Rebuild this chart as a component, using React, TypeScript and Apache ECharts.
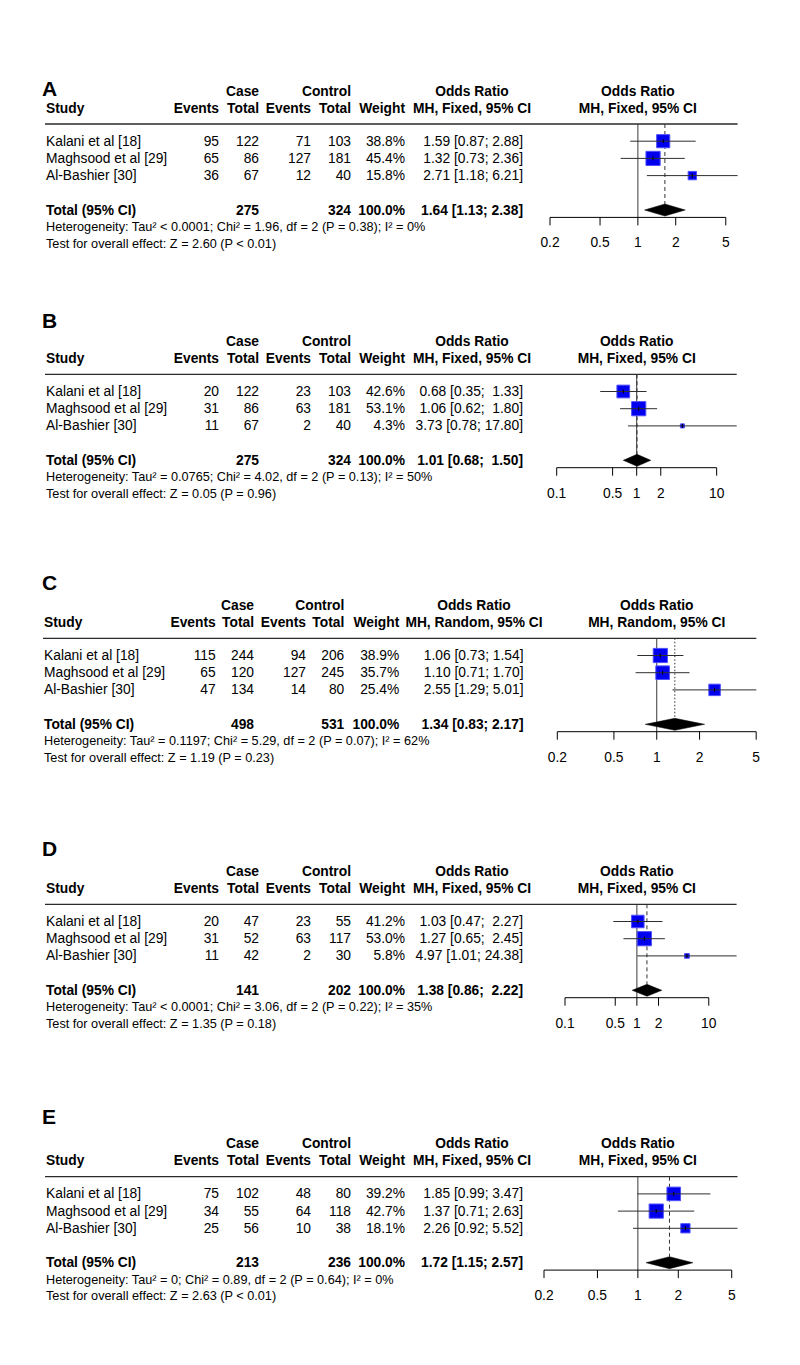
import React, { useEffect, useRef } from "react";
import * as echarts from "echarts";

// ---------------- DATA ----------------
const studies = ["Kalani et al [18]", "Maghsood et al [29]", "Al-Bashier [30]"];
const panelLetters = ["A", "B", "C", "D", "E"];
const panelMethods = ["Fixed", "Fixed", "Random", "Fixed", "Fixed"];

const caseEventsA = [95, 65, 36];
const caseTotalA = [122, 86, 67];
const ctrlEventsA = [71, 127, 12];
const ctrlTotalA = [103, 181, 40];
const weightA = [38.8, 45.4, 15.8];
const orA = [1.59, 1.32, 2.71];
const lowerA = [0.87, 0.73, 1.18];
const upperA = [2.88, 2.36, 6.21];
const summaryA = [1.64, 1.13, 2.38];
const totalsA = [275, 324];
const hetA = "Heterogeneity: Tau² < 0.0001; Chi² = 1.96, df = 2 (P = 0.38); I² = 0%";
const testA = "Test for overall effect: Z = 2.60 (P < 0.01)";
const ticksA = [0.2, 0.5, 1, 2, 5];

const caseEventsB = [20, 31, 11];
const caseTotalB = [122, 86, 67];
const ctrlEventsB = [23, 63, 2];
const ctrlTotalB = [103, 181, 40];
const weightB = [42.6, 53.1, 4.3];
const orB = [0.68, 1.06, 3.73];
const lowerB = [0.35, 0.62, 0.78];
const upperB = [1.33, 1.8, 17.8];
const summaryB = [1.01, 0.68, 1.5];
const totalsB = [275, 324];
const hetB = "Heterogeneity: Tau² = 0.0765; Chi² = 4.02, df = 2 (P = 0.13); I² = 50%";
const testB = "Test for overall effect: Z = 0.05 (P = 0.96)";
const ticksB = [0.1, 0.5, 1, 2, 10];

const caseEventsC = [115, 65, 47];
const caseTotalC = [244, 120, 134];
const ctrlEventsC = [94, 127, 14];
const ctrlTotalC = [206, 245, 80];
const weightC = [38.9, 35.7, 25.4];
const orC = [1.06, 1.1, 2.55];
const lowerC = [0.73, 0.71, 1.29];
const upperC = [1.54, 1.7, 5.01];
const summaryC = [1.34, 0.83, 2.17];
const totalsC = [498, 531];
const hetC = "Heterogeneity: Tau² = 0.1197; Chi² = 5.29, df = 2 (P = 0.07); I² = 62%";
const testC = "Test for overall effect: Z = 1.19 (P = 0.23)";
const ticksC = [0.2, 0.5, 1, 2, 5];

const caseEventsD = [20, 31, 11];
const caseTotalD = [47, 52, 42];
const ctrlEventsD = [23, 63, 2];
const ctrlTotalD = [55, 117, 30];
const weightD = [41.2, 53.0, 5.8];
const orD = [1.03, 1.27, 4.97];
const lowerD = [0.47, 0.65, 1.01];
const upperD = [2.27, 2.45, 24.38];
const summaryD = [1.38, 0.86, 2.22];
const totalsD = [141, 202];
const hetD = "Heterogeneity: Tau² < 0.0001; Chi² = 3.06, df = 2 (P = 0.22); I² = 35%";
const testD = "Test for overall effect: Z = 1.35 (P = 0.18)";
const ticksD = [0.1, 0.5, 1, 2, 10];

const caseEventsE = [75, 34, 25];
const caseTotalE = [102, 55, 56];
const ctrlEventsE = [48, 64, 10];
const ctrlTotalE = [80, 118, 38];
const weightE = [39.2, 42.7, 18.1];
const orE = [1.85, 1.37, 2.26];
const lowerE = [0.99, 0.71, 0.92];
const upperE = [3.47, 2.63, 5.52];
const summaryE = [1.72, 1.15, 2.57];
const totalsE = [213, 236];
const hetE = "Heterogeneity: Tau² = 0; Chi² = 0.89, df = 2 (P = 0.64); I² = 0%";
const testE = "Test for overall effect: Z = 2.63 (P < 0.01)";
const ticksE = [0.2, 0.5, 1, 2, 5];

const panels = [
  { caseEvents: caseEventsA, caseTotal: caseTotalA, ctrlEvents: ctrlEventsA, ctrlTotal: ctrlTotalA, weight: weightA, or: orA, lower: lowerA, upper: upperA, summary: summaryA, totals: totalsA, het: hetA, test: testA, ticks: ticksA },
  { caseEvents: caseEventsB, caseTotal: caseTotalB, ctrlEvents: ctrlEventsB, ctrlTotal: ctrlTotalB, weight: weightB, or: orB, lower: lowerB, upper: upperB, summary: summaryB, totals: totalsB, het: hetB, test: testB, ticks: ticksB },
  { caseEvents: caseEventsC, caseTotal: caseTotalC, ctrlEvents: ctrlEventsC, ctrlTotal: ctrlTotalC, weight: weightC, or: orC, lower: lowerC, upper: upperC, summary: summaryC, totals: totalsC, het: hetC, test: testC, ticks: ticksC },
  { caseEvents: caseEventsD, caseTotal: caseTotalD, ctrlEvents: ctrlEventsD, ctrlTotal: ctrlTotalD, weight: weightD, or: orD, lower: lowerD, upper: upperD, summary: summaryD, totals: totalsD, het: hetD, test: testD, ticks: ticksD },
  { caseEvents: caseEventsE, caseTotal: caseTotalE, ctrlEvents: ctrlEventsE, ctrlTotal: ctrlTotalE, weight: weightE, or: orE, lower: lowerE, upper: upperE, summary: summaryE, totals: totalsE, het: hetE, test: testE, ticks: ticksE },
];

// ---------------- LAYOUT ----------------
const FONT = '"Liberation Sans", Arial, Helvetica, sans-serif';
const FS = 13.8;
const FS_SMALL = 12.7;
const ROW = 17.2;
const Y_MAX = 5.43;
const SQ_MAX = 14.2;

const colsStd = { study: 46, ev: 219, tot: 259, cev: 311, ctot: 351, w: 405, or: 523, orHead: 472 };
const colsC = { study: 44, ev: 215.7, tot: 254, cev: 306, ctot: 344.3, w: 399.3, or: 523.5, orHead: 474 };

const layouts = [
  { top: 124, letterY: 88, gridLeft: 550, gridRight: 737.6, cols: colsStd },
  { top: 374.3, letterY: 320, gridLeft: 556.7, gridRight: 736.7, cols: colsStd },
  { top: 638.3, letterY: 582, gridLeft: 557.3, gridRight: 756.3, cols: colsC },
  { top: 904.3, letterY: 848, gridLeft: 565, gridRight: 736.6, cols: colsStd },
  { top: 1176.7, letterY: 1116, gridLeft: 544, gridRight: 737.5, cols: colsStd },
];

const font = (bold: boolean, size = FS) => `${bold ? "bold " : ""}${size}px ${FONT}`;

function txt(text: string, x: number, y: number, align: string, bold = false, size = FS) {
  return {
    type: "text",
    x,
    y,
    silent: true,
    style: { text, font: font(bold, size), fill: "#000", textAlign: align, textVerticalAlign: "middle" },
  };
}

function fmtCI(or: number, lo: number, hi: number, width: number) {
  return `${or.toFixed(2)} [${lo.toFixed(2)}; ${hi.toFixed(2).padStart(width, " ")}]`;
}

function buildOption() {
  const grids: any[] = [];
  const xAxes: any[] = [];
  const yAxes: any[] = [];
  const series: any[] = [];
  const graphics: any[] = [];

  panels.forEach((p, i) => {
    const lay = layouts[i];
    const c = lay.cols;
    const L = lay.top;
    const method = panelMethods[i];
    const xMin = Math.min(...p.lower, p.ticks[0]);
    const xMax = Math.max(...p.upper, p.ticks[p.ticks.length - 1]);
    const wMax = Math.max(...p.weight);
    const hiWidth = Math.max(...p.upper.map((v) => v.toFixed(2).length), p.summary[2].toFixed(2).length);

    grids.push({ left: lay.gridLeft, top: L, width: lay.gridRight - lay.gridLeft, height: Y_MAX * ROW });
    xAxes.push({ type: "log", logBase: 10, min: xMin, max: xMax, gridIndex: i, show: false });
    yAxes.push({ type: "value", min: 0, max: Y_MAX, inverse: true, gridIndex: i, show: false });

    // ---- table texts ----
    graphics.push(txt(panelLetters[i], 42, lay.letterY, "left", true, 21));
    graphics.push(txt("Case", c.tot, L - 33, "right", true));
    graphics.push(txt("Control", c.ctot, L - 33, "right", true));
    graphics.push(txt("Odds Ratio", c.orHead, L - 33, "center", true));
    graphics.push(txt("Study", c.study, L - 16, "left", true));
    graphics.push(txt("Events", c.ev, L - 16, "right", true));
    graphics.push(txt("Total", c.tot, L - 16, "right", true));
    graphics.push(txt("Events", c.cev, L - 16, "right", true));
    graphics.push(txt("Total", c.ctot, L - 16, "right", true));
    graphics.push(txt("Weight", c.w, L - 16, "right", true));
    graphics.push(txt(`MH, ${method}, 95% CI`, c.orHead, L - 16, "center", true));
    graphics.push({
      type: "line",
      silent: true,
      shape: { x1: c.study - 1, y1: L, x2: lay.gridRight, y2: L },
      style: { stroke: "#2a2a2a", lineWidth: 1.3 },
    });

    studies.forEach((s, k) => {
      const y = L + ROW * (k + 1);
      graphics.push(txt(s, c.study, y, "left"));
      graphics.push(txt(String(p.caseEvents[k]), c.ev, y, "right"));
      graphics.push(txt(String(p.caseTotal[k]), c.tot, y, "right"));
      graphics.push(txt(String(p.ctrlEvents[k]), c.cev, y, "right"));
      graphics.push(txt(String(p.ctrlTotal[k]), c.ctot, y, "right"));
      graphics.push(txt(`${p.weight[k].toFixed(1)}%`, c.w, y, "right"));
      graphics.push(txt(fmtCI(p.or[k], p.lower[k], p.upper[k], hiWidth), c.or, y, "right"));
    });

    const totalRow = studies.length + 2;
    const yT = L + ROW * totalRow;
    const wSum = p.weight.reduce((a, b) => a + b, 0);
    graphics.push(txt("Total (95% CI)", c.study, yT, "left", true));
    graphics.push(txt(String(p.totals[0]), c.tot, yT, "right", true));
    graphics.push(txt(String(p.totals[1]), c.ctot, yT, "right", true));
    graphics.push(txt(`${wSum.toFixed(1)}%`, c.w, yT, "right", true));
    graphics.push(txt(fmtCI(p.summary[0], p.summary[1], p.summary[2], hiWidth), c.or, yT, "right", true));
    graphics.push(txt(p.het, c.study, L + 103, "left", false, FS_SMALL));
    graphics.push(txt(p.test, c.study, L + 119.5, "left", false, FS_SMALL));

    // ---- forest: reference line at OR = 1 + header ----
    series.push({
      type: "custom",
      xAxisIndex: i,
      yAxisIndex: i,
      silent: true,
      z: 2,
      data: [[1, 0]],
      encode: { x: 0, y: 1 },
      renderItem: (params: any, api: any) => {
        const top = api.coord([api.value(0), 0]);
        const bot = api.coord([api.value(0), Y_MAX]);
        return {
          type: "group",
          children: [
            { type: "line", shape: { x1: top[0], y1: top[1], x2: bot[0], y2: bot[1] }, style: { stroke: "#3a3a3a", lineWidth: 1 } },
            { type: "text", x: top[0], y: top[1] - 33, style: { text: "Odds Ratio", font: font(true), fill: "#000", textAlign: "center", textVerticalAlign: "middle" } },
            { type: "text", x: top[0], y: top[1] - 16, style: { text: `MH, ${method}, 95% CI`, font: font(true), fill: "#000", textAlign: "center", textVerticalAlign: "middle" } },
          ],
        };
      },
    });

    // ---- axis ticks & labels ----
    const ticks = p.ticks;
    series.push({
      type: "custom",
      xAxisIndex: i,
      yAxisIndex: i,
      silent: true,
      z: 2,
      data: ticks.map((t) => [t, Y_MAX]),
      encode: { x: 0, y: 1 },
      renderItem: (params: any, api: any) => {
        const pt = api.coord([api.value(0), Y_MAX]);
        const children: any[] = [
          { type: "line", shape: { x1: pt[0], y1: pt[1], x2: pt[0], y2: pt[1] + 8 }, style: { stroke: "#000", lineWidth: 1 } },
          { type: "text", x: pt[0], y: pt[1] + 25.5, style: { text: String(ticks[params.dataIndex]), font: font(false), fill: "#000", textAlign: "center", textVerticalAlign: "middle" } },
        ];
        if (params.dataIndex === 0) {
          const last = api.coord([ticks[ticks.length - 1], Y_MAX]);
          children.push({ type: "line", shape: { x1: pt[0], y1: pt[1], x2: last[0], y2: last[1] }, style: { stroke: "#000", lineWidth: 1 } });
        }
        return { type: "group", children };
      },
    });

    // ---- summary diamond + dashed line ----
    series.push({
      type: "custom",
      xAxisIndex: i,
      yAxisIndex: i,
      silent: true,
      z: 3,
      data: [[p.summary[0], totalRow, p.summary[1], p.summary[2]]],
      encode: { x: 0, y: 1 },
      renderItem: (params: any, api: any) => {
        const ctr = api.coord([api.value(0), api.value(1)]);
        const lo = api.coord([api.value(2), api.value(1)]);
        const hi = api.coord([api.value(3), api.value(1)]);
        const top = api.coord([api.value(0), 0]);
        const h = 6;
        return {
          type: "group",
          children: [
            {
              type: "line",
              shape: { x1: top[0], y1: top[1], x2: ctr[0], y2: ctr[1] - h },
              style: { stroke: "#333", lineWidth: 1, lineDash: method === "Random" ? [1.5, 2] : [4, 3] },
            },
            {
              type: "polygon",
              shape: { points: [[lo[0], ctr[1]], [ctr[0], ctr[1] - h], [hi[0], ctr[1]], [ctr[0], ctr[1] + h]] },
              style: { fill: "#000", stroke: "#000", lineWidth: 0.5 },
            },
          ],
        };
      },
    });

    // ---- study squares + CI lines ----
    series.push({
      type: "custom",
      xAxisIndex: i,
      yAxisIndex: i,
      silent: true,
      z: 4,
      data: p.or.map((v, k) => [v, k + 1, p.lower[k], p.upper[k], p.weight[k]]),
      encode: { x: 0, y: 1 },
      renderItem: (params: any, api: any) => {
        const ctr = api.coord([api.value(0), api.value(1)]);
        const lo = api.coord([api.value(2), api.value(1)]);
        const hi = api.coord([api.value(3), api.value(1)]);
        const side = SQ_MAX * Math.sqrt(api.value(4) / wMax);
        return {
          type: "group",
          children: [
            { type: "rect", shape: { x: ctr[0] - side / 2, y: ctr[1] - side / 2, width: side, height: side }, style: { fill: "#0000ee", stroke: "#4f4fff", lineWidth: 1 } },
            { type: "line", shape: { x1: lo[0], y1: ctr[1], x2: hi[0], y2: ctr[1] }, style: { stroke: "#2f2f2f", lineWidth: 1 } },
            { type: "line", shape: { x1: ctr[0], y1: ctr[1] - 2, x2: ctr[0], y2: ctr[1] + 2 }, style: { stroke: "#000", lineWidth: 1 } },
          ],
        };
      },
    });
  });

  return {
    animation: false,
    backgroundColor: "#fff",
    grid: grids,
    xAxis: xAxes,
    yAxis: yAxes,
    series,
    graphic: graphics,
  };
}

export default function App() {
  const ref = useRef<HTMLDivElement>(null);
  useEffect(() => {
    const el = ref.current;
    if (!el) return;
    const chart = echarts.init(el, null, { renderer: "svg", width: 800, height: 1365 });
    chart.setOption(buildOption() as any);
    return () => chart.dispose();
  }, []);
  return (
    <div
      ref={ref}
      style={{ position: "absolute", left: 0, top: 0, width: 800, height: 1365, background: "#fff" }}
    />
  );
}
